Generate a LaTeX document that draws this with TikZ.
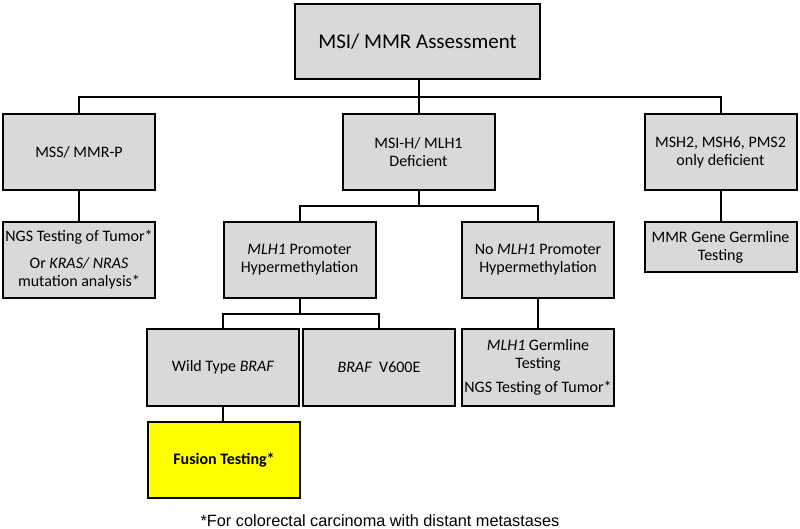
\documentclass[tikz,border=0pt]{standalone}
\usepackage{fontspec}
\setmainfont{Carlito}
\newfontfamily\footfont{Liberation Sans}
\definecolor{boxgray}{HTML}{D9D9D9}
\definecolor{fusionyellow}{HTML}{FFFF00}
\begin{document}
\begin{tikzpicture}[x=1pt,y=-1pt,
  box/.style={draw=black, line width=2pt, fill=boxgray, inner sep=0pt, align=center,
    minimum width=152pt, minimum height=76pt, font=\fontsize{16}{18}\selectfont},
  link/.style={draw=black, line width=2pt}]
\useasboundingbox (0,0) rectangle (800,529);
\fill[white] (0,0) rectangle (800,529);
% boxes
\node[box, minimum width=245pt, minimum height=75pt, font=\fontsize{21}{24}\selectfont] (top) at (417.5,42) {MSI/ MMR Assessment};
\node[box] (mss) at (79,152) {MSS/ MMR-P};
\node[box] (msih) at (418.5,152) {MSI-H/ MLH1\\Deficient};
\node[box] (msh) at (720.5,152) {MSH2, MSH6, PMS2\\only deficient};
\node[box] (ngs) at (79,260) {NGS Testing of Tumor*\\[9pt]Or \textit{KRAS/ NRAS}\\mutation analysis*};
\node[box] (prom) at (299.5,260) {\textit{MLH1} Promoter\\Hypermethylation};
\node[box] (noprom) at (538,260) {No \textit{MLH1} Promoter\\Hypermethylation};
\node[box, minimum height=50pt] (mmrg) at (720.5,247) {MMR Gene Germline\\Testing};
\node[box, minimum height=77pt] (wt) at (223,367.5) {Wild Type \textit{BRAF}};
\node[box, minimum height=77pt] (braf) at (379,367.5) {\textit{BRAF}\ \ V600E};
\node[box, minimum height=77pt] (germ) at (538,367.5) {\textit{MLH1} Germline\\Testing\\[6pt]NGS Testing of Tumor*};
\node[box, fill=fusionyellow, font=\fontsize{16}{18}\selectfont\bfseries] (fus) at (224,460) {Fusion Testing*};
\node[font=\footfont\fontsize{16.3}{19}\selectfont, inner sep=0pt] (foot) at (380,521) {*For colorectal carcinoma with distant metastases};
% connectors
\coordinate (j1) at (418.5,97);
\coordinate (j2) at (418.5,206);
\coordinate (j3) at (299.5,314);
\draw[link] (top.south -| j1) -- (j1);
\draw[link] (mss.north) |- (j1) -| (msh.north);
\draw[link] (msih.north) -- (j1);
\draw[link] (mss.south) -- (ngs.north);
\draw[link] (msh.south) -- (mmrg.north);
\draw[link] (msih.south) -- (j2);
\draw[link] (prom.north) |- (j2) -| (noprom.north);
\draw[link] (prom.south) -- (j3);
\draw[link] (wt.north) |- (j3) -| (braf.north);
\draw[link] (noprom.south) -- (germ.north);
\draw[link] (wt.south) -- (wt.south |- fus.north);
\end{tikzpicture}
\end{document}
